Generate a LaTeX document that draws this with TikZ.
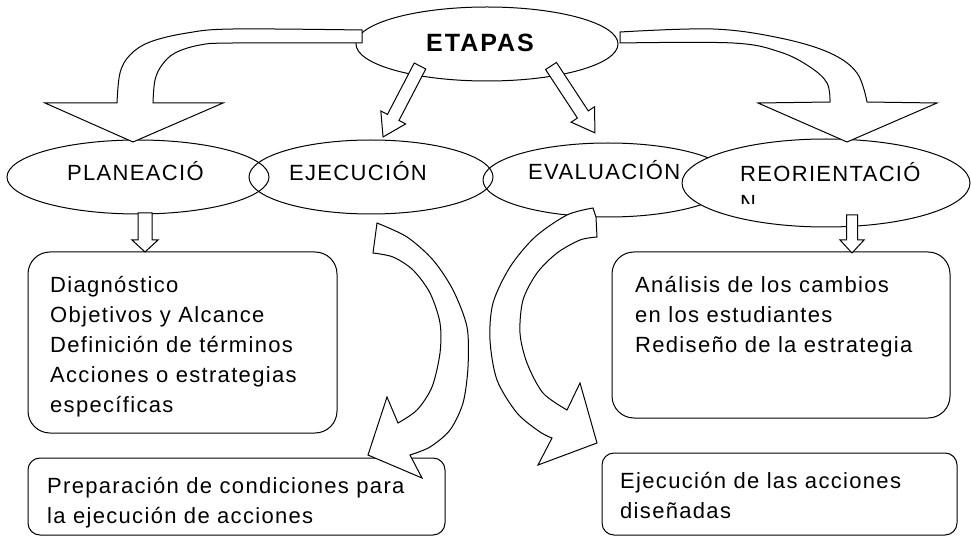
\documentclass[tikz,border=0pt]{standalone}
\usepackage{fontspec}
\setmainfont{Liberation Sans}
\newfontfamily\labfont{Liberation Sans}[LetterSpace=6]
\newfontfamily\etfont{Liberation Sans}[LetterSpace=8]
\usetikzlibrary{shapes.geometric}
\tikzset{
  ln/.style={line width=1pt, draw=black},
  oval/.style={ln, ellipse, inner sep=0pt},
  rbox/.style={ln, rectangle, inner sep=0pt},
  fat/.style={ln, fill=white, line join=miter},
  lab/.style={inner sep=0pt, anchor=base west, font=\labfont\fontsize{22}{30}\selectfont},
  blk/.style={inner sep=0pt, anchor=north west, align=left, font=\labfont\fontsize{22}{30}\selectfont}
}
\newcommand\fatarrow[7]{%
  \begin{scope}[shift={(#1,#2)},rotate=#3]
    \draw[fat] (0,-#5/2) -- (#4-#7,-#5/2) -- (#4-#7,-#6/2) -- (#4,0) -- (#4-#7,#6/2) -- (#4-#7,#5/2) -- (0,#5/2) -- cycle;
  \end{scope}}
\begin{document}
\begin{tikzpicture}[x=1pt,y=-1pt]
\useasboundingbox (0,0) rectangle (971,537);
% ellipses
\node[oval, minimum width=262pt, minimum height=74pt] (etapas) at (487,44) {};
\node[oval, minimum width=262pt, minimum height=74pt] (plan) at (138,177) {};
\node[oval, minimum width=244pt, minimum height=74pt] (ejec) at (371,177) {};
\node[oval, minimum width=250pt, minimum height=74pt] (eval) at (608,180) {};
\node[oval, fill=white, minimum width=288pt, minimum height=88pt] (reor) at (826,183) {};
% boxes
\node[rbox, rounded corners=22pt, minimum width=309pt, minimum height=181pt] (b1) at (182.5,342.5) {};
\node[rbox, rounded corners=12pt, minimum width=417pt, minimum height=77pt] (b2) at (236.5,496.5) {};
\node[rbox, rounded corners=22pt, minimum width=338pt, minimum height=166pt] (b3) at (781,335) {};
\node[rbox, rounded corners=12pt, minimum width=355pt, minimum height=82pt] (b4) at (779.5,494) {};
% big left arrow
\draw[fat] (362,30) -- plot[smooth, tension=0.6] coordinates {(362,30) (233,29) (187,33) (150,42) (130,55) (120,73) (117,103)}
  -- (45,103) -- (133,142) -- (223,103) -- (153,103)
  -- plot[smooth, tension=0.6] coordinates {(153,103) (155,80) (162,65) (175,53) (200,45) (233,43) (362,43)} -- cycle;
% big right arrow
\draw[fat] (620,32) -- plot[smooth, tension=0.6] coordinates {(620,32) (713,29) (780,38) (830,53) (857,73) (867,102)}
  -- (937,103) -- (847,142) -- (758,103) -- (830,102)
  -- plot[smooth, tension=0.6] coordinates {(830,102) (827,83) (810,67) (780,52) (733,43) (620,43)} -- cycle;
% small arrows
\fatarrow{420}{66}{242.5}{80}{13}{28}{22}
\fatarrow{551}{66}{-56.7}{80}{13}{28}{22}
\fatarrow{145}{213}{270}{39}{14}{26}{12}
\fatarrow{852}{215}{270}{38}{11}{24}{13}
% curved arrow 1
\draw[fat] plot[smooth] coordinates {(377,223) (407,237) (433,260) (453,290) (467,327) (468,367) (463,403) (450,430) (430,447) (410,455)}
  -- (422,478) -- (368,455) -- (387,397) -- (398,423)
  -- plot[smooth] coordinates {(398,423) (417,410) (432,387) (440,353) (440,323) (430,293) (413,270) (393,257) (373,253)} -- cycle;
% curved arrow 2
\draw[fat] (597,237) -- (596,217) -- (593,208)
  -- plot[smooth] coordinates {(593,208) (567,215) (535,237) (510,267) (493,303) (490,340) (497,380) (517,413) (540,432) (552,438)}
  -- (538,465) -- (597,443) -- (580,383) -- (567,410)
  -- plot[smooth] coordinates {(567,410) (543,393) (527,363) (520,333) (523,300) (537,273) (557,253) (580,240) (597,237)} -- cycle;
% texts
\node[inner sep=0pt, anchor=base west, font=\etfont\bfseries\fontsize{25}{28}\selectfont] (tet) at (426,52) {ETAPAS};
\node[lab] (tplan) at (67,181) {PLANEACIÓ};
\node[lab] (tejec) at (289,181) {EJECUCIÓN};
\node[lab] (teval) at (528,180) {EVALUACIÓN};
\node[lab] (treor) at (740,182) {REORIENTACIÓ};
\begin{scope}
  \clip (735,190) rectangle (770,204);
  \node[lab] (treon) at (740,211) {N};
\end{scope}
\node[blk] (t1) at (50,276) {Diagnóstico\\Objetivos y Alcance\\Definición de términos\\Acciones o estrategias\\específicas};
\node[blk] (t2) at (47,477) {Preparación de condiciones para\\la ejecución de acciones};
\node[blk] (t3) at (635,276) {Análisis de los cambios\\en los estudiantes\\Rediseño de la estrategia};
\node[blk] (t4) at (620,472) {Ejecución de las acciones\\diseñadas};
\end{tikzpicture}
\end{document}
